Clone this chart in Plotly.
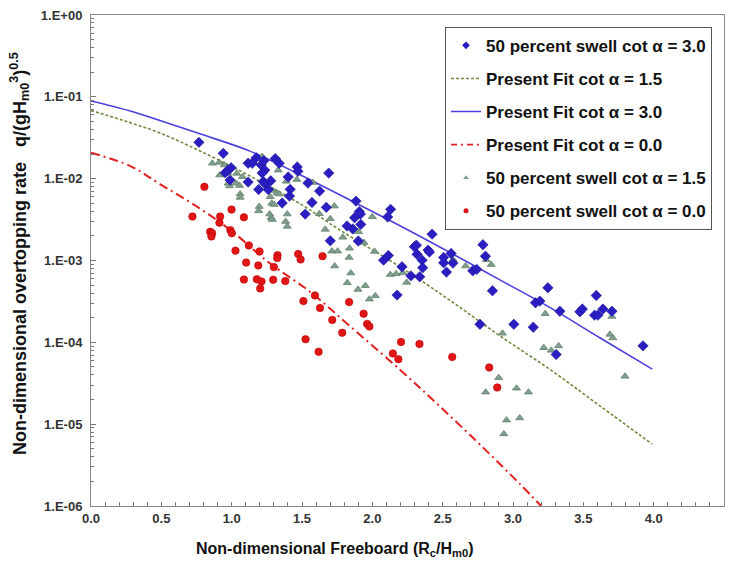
import plotly.graph_objects as go

# ---------------- data ----------------
blue_x = [0.767, 0.94, 0.954, 0.973, 0.996, 0.989, 1.117, 1.146, 1.174, 1.21, 1.229, 1.235, 1.217,
          1.31, 1.338, 1.117, 1.224, 1.238, 1.278, 1.192, 1.26, 1.416, 1.411, 1.359, 1.466, 1.471,
          1.402, 1.542, 1.625, 1.69, 1.523, 1.571, 1.673, 1.701, 1.884, 1.907, 1.915, 1.874, 1.918,
          1.861, 1.82, 1.9, 2.13, 2.109, 2.114, 2.08, 2.425, 2.299, 2.313, 2.396, 2.406, 2.318,
          2.354, 2.358, 2.211, 2.274, 2.337, 2.176, 2.507, 2.507, 2.56, 2.573, 2.527, 2.786, 2.804,
          2.714, 2.742, 2.854, 2.765, 3.006, 3.144, 3.16, 3.191, 3.248, 3.333, 3.475, 3.493, 3.592,
          3.58, 3.604, 3.639, 3.703, 3.924, 3.307]
blue_y = [0.0278, 0.0204, 0.0118, 0.0127, 0.0136, 0.0096, 0.0154, 0.0154, 0.0180, 0.0147, 0.0166,
          0.0127, 0.0117, 0.0176, 0.0154, 0.00908, 0.00922, 0.0086, 0.00942, 0.00736, 0.00736,
          0.0074, 0.00612, 0.00504, 0.0139, 0.0123, 0.0105, 0.00883, 0.00705, 0.0117, 0.00369,
          0.00511, 0.00446, 0.00174, 0.00532, 0.00396, 0.00369, 0.00333, 0.00276, 0.00243, 0.00264,
          0.00173, 0.00422, 0.0034, 0.00115, 0.00101, 0.0021, 0.00147, 0.00154, 0.00134, 0.00127,
          0.00119, 0.00101, 0.000815, 0.000838, 0.000649, 0.000632, 0.000378, 0.00109, 0.000937,
          0.00122, 0.000929, 0.000722, 0.00156, 0.00113, 0.000748, 0.000778, 0.000427, 0.000166,
          0.000166, 0.000153, 0.000304, 0.000319, 0.000464, 0.00024, 0.000236, 0.000255, 0.000374,
          0.000215, 0.000215, 0.000255, 0.00024, 9.06e-5, 7.1e-5]

green_x = [0.863, 0.911, 0.947, 0.915, 0.973, 1.036, 1.077, 0.975, 0.984, 1.032, 1.056, 1.06, 1.06,
           1.217, 1.331, 1.388, 1.463, 1.293, 1.322, 1.338, 1.274, 1.285, 1.302, 1.196, 1.192, 1.27,
           1.281, 1.288, 1.395, 1.384, 1.395, 1.578, 1.623, 1.673, 1.73, 1.701, 1.665, 1.712, 1.753,
           1.732, 1.79, 1.838, 1.835, 1.847, 1.822, 1.898, 1.95, 1.979, 2.021, 1.902, 1.94, 2.0,
           2.016, 2.128, 2.169, 2.217, 2.244, 2.574, 2.663, 2.811, 2.845, 2.925, 2.898, 2.806, 3.025,
           3.11, 2.954, 3.048, 2.935, 3.229, 3.219, 3.272, 3.324, 3.703, 3.689, 3.71, 3.796]
green_y = [0.0154, 0.0158, 0.0147, 0.01107, 0.0117, 0.0116, 0.01055, 0.00877, 0.00813, 0.00877,
           0.00824, 0.00648, 0.0059, 0.0186, 0.0127, 0.00927, 0.00975, 0.00716, 0.00667, 0.00648,
           0.00601, 0.00499, 0.00482, 0.00456, 0.00405, 0.00369, 0.00334, 0.00316, 0.00369, 0.00299,
           0.00261, 0.00896, 0.00372, 0.00462, 0.00462, 0.00323, 0.0024, 0.0013, 0.0013, 0.000855,
           0.00192, 0.00141, 0.00109, 0.000702, 0.000533, 0.000443, 0.000491, 0.000337, 0.00037,
           0.00224, 0.00166, 0.00342, 0.00129, 0.000673, 0.000688, 0.000711, 0.00054, 0.00103,
           0.000855, 0.00102, 0.000891, 0.000129, 3.7e-5, 2.46e-5, 2.75e-5, 2.46e-5, 1.12e-5, 1.19e-5,
           7.6e-6, 0.000224, 8.6e-5, 7.98e-5, 9.04e-5, 0.000207, 0.000125, 0.000113, 3.84e-5]

red_x = [0.806, 0.721, 0.918, 0.913, 0.999, 1.087, 0.847, 0.861, 0.856, 0.991, 1.001, 1.027, 1.122,
         1.198, 1.326, 1.324, 1.473, 1.49, 1.646, 1.103, 1.189, 1.3, 1.087, 1.179, 1.212, 1.295,
         1.381, 1.203, 1.51, 1.592, 1.628, 1.715, 1.525, 1.618, 1.835, 1.938, 1.963, 1.979, 1.786,
         2.204, 2.146, 2.185, 2.335, 2.568, 2.831, 2.888]
red_y = [0.00796, 0.00344, 0.00344, 0.0029, 0.00419, 0.00337, 0.00224, 0.00216, 0.00197, 0.00235,
         0.00216, 0.00132, 0.00153, 0.00129, 0.00116, 0.00107, 0.0012, 0.00103, 0.00113, 0.000942,
         0.000871, 0.00083, 0.000584, 0.000589, 0.000555, 0.000581, 0.00056, 0.000456, 0.000319,
         0.000374, 0.000262, 0.000188, 0.000109, 7.65e-5, 0.00031, 0.000224, 0.000168, 0.000156,
         0.000131, 0.000101, 7.31e-5, 6.23e-5, 9.55e-5, 6.63e-5, 4.93e-5, 2.81e-5]

fit30_x = [0.0, 0.28, 0.49, 0.78, 1.13, 1.49, 1.84, 2.2, 2.56, 2.91, 3.27, 3.62, 3.99]
fit30_y = [0.0889, 0.067, 0.0513, 0.0351, 0.0217, 0.0111, 0.00548, 0.00264, 0.00123, 0.000576,
           0.000262, 0.000113, 4.7e-5]

fit15_x = [0.0, 0.22, 0.49, 0.85, 1.13, 1.49, 1.77, 2.2, 2.56, 2.91, 3.27, 3.62, 3.99]
fit15_y = [0.068, 0.052, 0.0361, 0.0189, 0.01076, 0.00489, 0.00235, 0.00083, 0.000319, 0.000119,
           4.57e-5, 1.66e-5, 5.7e-6]

fit00_x = [0.0, 0.28, 0.49, 0.78, 1.0, 1.27, 1.56, 1.84, 2.2, 2.47, 2.77, 3.05, 3.2]
fit00_y = [0.0208, 0.01426, 0.0086, 0.00425, 0.00229, 0.000929, 0.000411, 0.000158, 4.57e-5,
           1.71e-5, 5.53e-6, 1.85e-6, 1.0e-6]

y_tickvals = [1e0, 1e-1, 1e-2, 1e-3, 1e-4, 1e-5, 1e-6]
y_ticktext = ["1.E+00", "1.E-01", "1.E-02", "1.E-03", "1.E-04", "1.E-05", "1.E-06"]
x_tickvals = [0.0, 0.5, 1.0, 1.5, 2.0, 2.5, 3.0, 3.5, 4.0, 4.5]

FONT = "Arial, Liberation Sans, sans-serif"

BLUE_M = "#2A1EC2"
GREEN_M = "#7F9F8C"
RED_M = "#E01515"
GREEN_L = "#6E8B3D"
BLUE_L = "#4A40DD"
RED_L = "#E32020"

fig = go.Figure()

# plotted series (legend handled by legend-only entries below)
fig.add_trace(go.Scatter(x=fit15_x, y=fit15_y, mode="lines", line_shape="spline", showlegend=False,
                         name="Present Fit cot α = 1.5",
                         line=dict(color=GREEN_L, width=1.6, dash="3px,2px")))
fig.add_trace(go.Scatter(x=fit30_x, y=fit30_y, mode="lines", line_shape="spline", showlegend=False,
                         name="Present Fit cot α = 3.0",
                         line=dict(color=BLUE_L, width=1.6)))
fig.add_trace(go.Scatter(x=fit00_x, y=fit00_y, mode="lines", line_shape="spline", showlegend=False,
                         name="Present Fit cot α = 0.0",
                         line=dict(color=RED_L, width=2, dash="9px,4px,2px,4px")))
fig.add_trace(go.Scatter(x=green_x, y=green_y, mode="markers", showlegend=False,
                         name="50 percent swell cot α = 1.5",
                         marker=dict(symbol="triangle-up", size=7, color=GREEN_M,
                                     line=dict(color="#5F7F6C", width=0.8))))
fig.add_trace(go.Scatter(x=red_x, y=red_y, mode="markers", showlegend=False,
                         name="50 percent swell cot α = 0.0",
                         marker=dict(symbol="circle", size=7.5, color=RED_M,
                                     line=dict(color="#C00000", width=0.6))))
fig.add_trace(go.Scatter(x=blue_x, y=blue_y, mode="markers", showlegend=False,
                         name="50 percent swell cot α = 3.0",
                         marker=dict(symbol="diamond", size=8, color=BLUE_M,
                                     line=dict(color="#1E1499", width=0.6))))

# legend entries (small symbols as in the reference)
legend_items = [
    ("50 percent swell cot α = 3.0", "markers", dict(symbol="diamond", size=6, color=BLUE_M), None),
    ("Present Fit cot α = 1.5", "lines", None, dict(color=GREEN_L, width=1.4, dash="3px,2px")),
    ("Present Fit cot α = 3.0", "lines", None, dict(color=BLUE_L, width=1.6)),
    ("Present Fit cot α = 0.0", "lines", None, dict(color=RED_L, width=1.8, dash="6px,4px,2px,4px")),
    ("50 percent swell cot α = 1.5", "markers", dict(symbol="triangle-up", size=5, color=GREEN_M), None),
    ("50 percent swell cot α = 0.0", "markers", dict(symbol="circle", size=5, color=RED_M), None),
]
for i, (nm, md, mk, ln) in enumerate(legend_items):
    kw = dict(x=[None], y=[None], mode=md, name=nm, legendrank=i + 1, legendgroup=f"g{i}",
              showlegend=True)
    if mk:
        kw["marker"] = mk
    if ln:
        kw["line"] = ln
    fig.add_trace(go.Scatter(**kw))

fig.update_layout(
    width=730, height=564,
    margin=dict(l=91, r=6, t=15, b=58),
    paper_bgcolor="white", plot_bgcolor="white",
    font=dict(family=FONT, size=12, color="#222"),
    showlegend=True,
    legend=dict(x=(445 - 91) / 633, y=0.976, xanchor="left", yanchor="top",
                bgcolor="white", bordercolor="#555", borderwidth=1,
                font=dict(family=FONT, size=17, color="#111", weight="bold"),
                tracegroupgap=8, itemwidth=30),
    xaxis=dict(range=[0, 4.5], tickvals=x_tickvals, ticktext=[f"{v:.1f}" for v in x_tickvals],
               ticks="inside", ticklen=4, tickcolor="#777",
               minor=dict(dtick=0.1, ticks="inside", ticklen=4, tickcolor="#777"),
               showline=True, linecolor="#888", linewidth=1, mirror=True,
               showgrid=False, zeroline=False,
               tickfont=dict(family=FONT, size=13, color="#333", weight="bold")),
    yaxis=dict(type="log", range=[-6, 0], tickvals=y_tickvals, ticktext=y_ticktext,
               ticks="inside", ticklen=5, tickcolor="#777",
               minor=dict(ticks="inside", ticklen=3, tickcolor="#777", dtick="D1"),
               showline=True, linecolor="#888", linewidth=1, mirror=True,
               showgrid=False, zeroline=False, ticklabelstandoff=5,
               tickfont=dict(family=FONT, size=13, color="#333", weight="bold")),
)

fig.add_annotation(text="Non-dimensional Freeboard (R<sub>c</sub>/H<sub>m0</sub>)",
                   xref="paper", yref="paper", x=(335 - 91) / 633, y=(506 - 549) / 491,
                   xanchor="center", yanchor="middle", showarrow=False,
                   font=dict(family=FONT, size=16, color="#111", weight="bold"))
fig.add_annotation(text="Non-dimensional overtopping rate   q/(gH<sub>m0</sub><sup>3</sup>)<sup>0.5</sup>",
                   xref="paper", yref="paper", x=(20 - 91) / 633, y=(506 - 254) / 491,
                   xanchor="center", yanchor="middle", showarrow=False, textangle=-90,
                   font=dict(family=FONT, size=18, color="#111", weight="bold"))

fig.write_html("out.html")
